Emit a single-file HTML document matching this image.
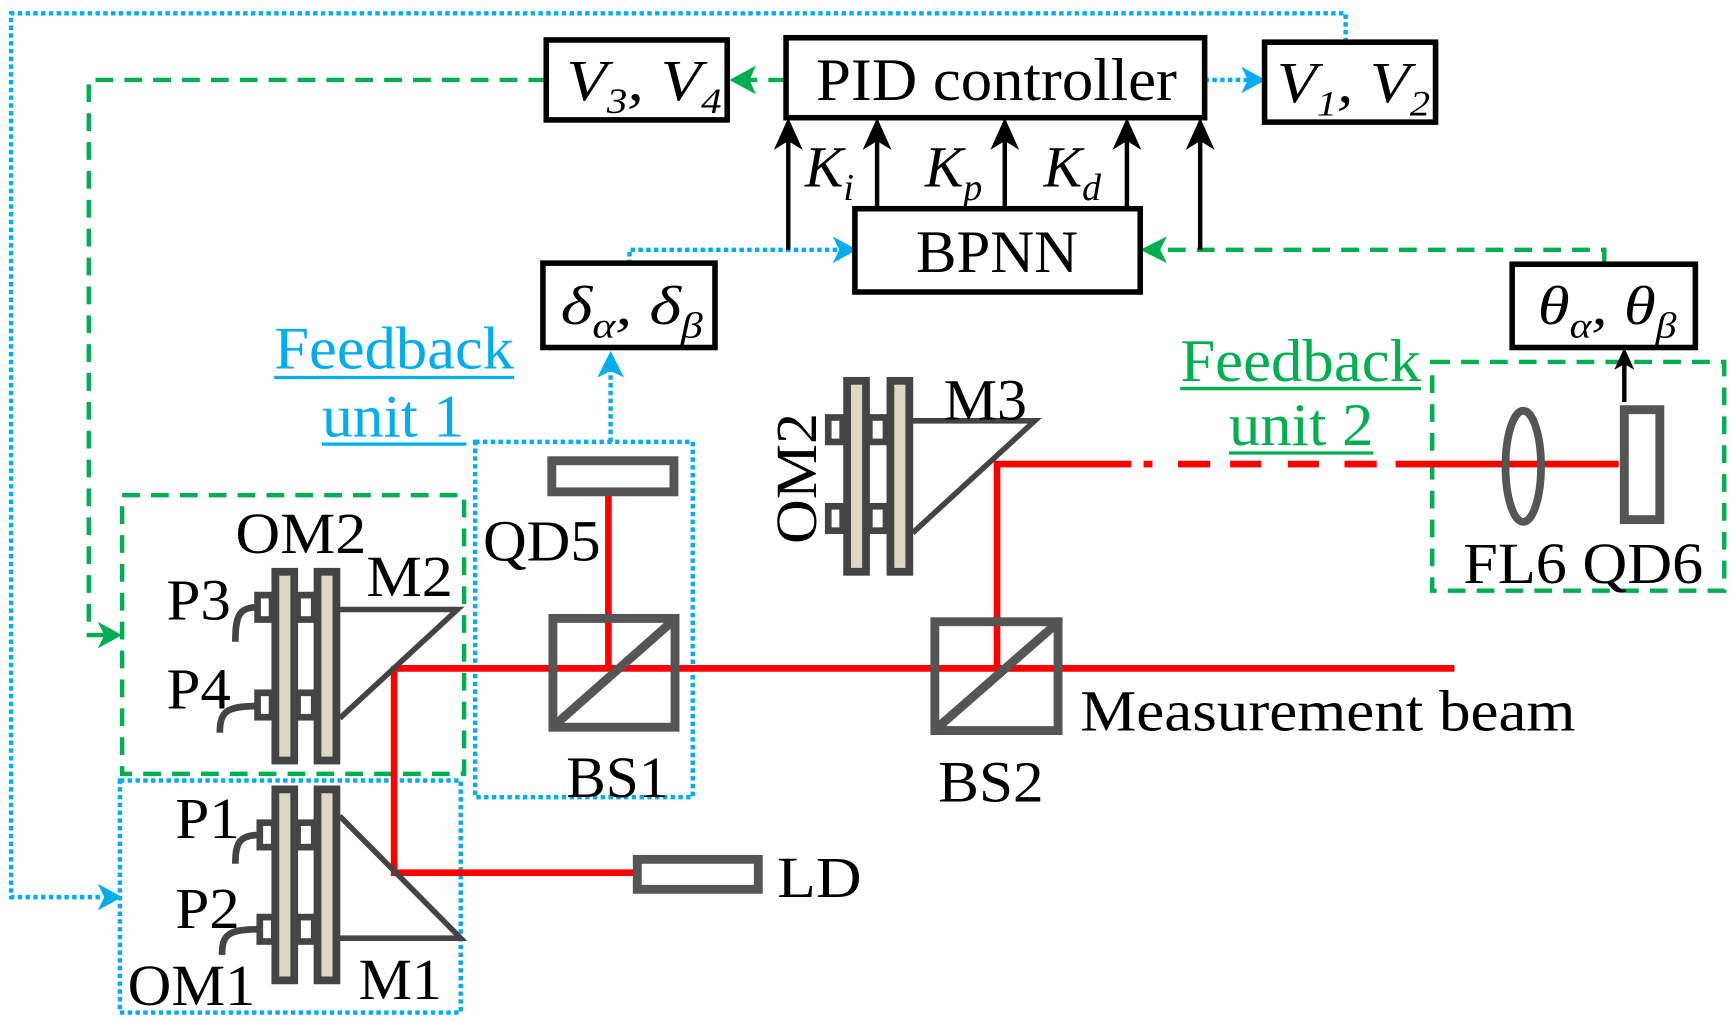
<!DOCTYPE html>
<html><head><meta charset="utf-8"><style>
html,body{margin:0;padding:0;background:#fff;}
svg{display:block;}
text{font-family:"Liberation Serif","Times New Roman",serif;fill:#000;}
</style></head><body>
<svg width="1732" height="1022" viewBox="0 0 1560 920.5" preserveAspectRatio="none" xmlns="http://www.w3.org/2000/svg" font-family="Liberation Serif, serif">
<!-- top blue dotted loop -->
<g fill="none" stroke="#00aeef" stroke-width="4" stroke-dasharray="4,3">
<path d="M1212,38 V12 H10 V808 H92"/>
<path d="M567,238 V225 H758"/>
<path d="M1085,72 H1125"/>
<path d="M550,398 V332"/>
<rect x="428" y="398" width="196" height="320"/>
<rect x="108" y="703" width="307" height="209"/>
</g>
<g fill="#00aeef">
<path d="M110,808 L88,796 L94,808 L88,820Z"/>
<path d="M772,225 L750,213 L756,225 L750,237Z"/>
<path d="M1140,72 L1118,60 L1124,72 L1118,84Z"/>
<path d="M550,316 L538,340 L550,334 L562,340Z"/>
</g>
<!-- green dashed -->
<g fill="none" stroke="#00b050" stroke-width="4" stroke-dasharray="16,10">
<path d="M492,72 H80 V572 H95"/>
<path d="M708,72 H675"/>
<path d="M1445,238 V225 H1040"/>
<rect x="110" y="446" width="308" height="251"/>
<rect x="1290" y="326" width="263" height="206"/>
</g>
<g fill="#00b050">
<path d="M110,572 L88,560 L94,572 L88,584Z"/>
<path d="M657,72 L681,59 L675,72 L681,85Z"/>
<path d="M1027,225 L1051,213 L1045,225 L1051,237Z"/>
</g>
<!-- boxes -->
<g fill="#fff" stroke="#000" stroke-width="5">
<rect x="492" y="36" width="163" height="72"/>
<rect x="708" y="34" width="377" height="72"/>
<rect x="1139" y="38" width="154" height="72"/>
<rect x="770" y="188" width="257" height="75"/>
<rect x="489" y="237" width="155" height="76"/>
<rect x="1362" y="238" width="165" height="75"/>
</g>
<!-- black arrows -->
<g stroke="#000" stroke-width="4" fill="none">
<path d="M710,225 V118"/><path d="M790,188 V118"/><path d="M905,188 V118"/><path d="M1015,188 V118"/><path d="M1081,225 V118"/><path d="M1463,362 V326"/>
</g>
<g fill="#000">
<path d="M710,106 L697,135 L710,127 L723,135Z"/>
<path d="M790,106 L777,135 L790,127 L803,135Z"/>
<path d="M905,106 L892,135 L905,127 L918,135Z"/>
<path d="M1015,106 L1002,135 L1015,127 L1028,135Z"/>
<path d="M1081,106 L1068,135 L1081,127 L1094,135Z"/>
<path d="M1463,313 L1454,333 L1463,328 L1472,333Z"/>
</g>
<!-- box texts -->
<text x="735" y="90" font-size="54" textLength="325" lengthAdjust="spacingAndGlyphs">PID controller</text>
<text x="825" y="245" font-size="54" textLength="146" lengthAdjust="spacingAndGlyphs">BPNN</text>
<text x="510" y="90" font-size="52" font-style="italic" textLength="140" lengthAdjust="spacingAndGlyphs">V<tspan font-size="32" dy="12">3</tspan><tspan dy="-12">, V</tspan><tspan font-size="32" dy="12">4</tspan></text>
<text x="1150" y="92" font-size="52" font-style="italic" textLength="138" lengthAdjust="spacingAndGlyphs">V<tspan font-size="32" dy="12">1</tspan><tspan dy="-12">, V</tspan><tspan font-size="32" dy="12">2</tspan></text>
<text x="505" y="292" font-size="50" font-style="italic" textLength="128" lengthAdjust="spacingAndGlyphs">δ<tspan font-size="32" dy="12">α</tspan><tspan dy="-12">, δ</tspan><tspan font-size="32" dy="12">β</tspan></text>
<text x="1385" y="292" font-size="50" font-style="italic" textLength="125" lengthAdjust="spacingAndGlyphs">θ<tspan font-size="32" dy="12">α</tspan><tspan dy="-12">, θ</tspan><tspan font-size="32" dy="12">β</tspan></text>
<text x="725" y="168" font-size="52" font-style="italic">K<tspan font-size="34" dy="12">i</tspan></text>
<text x="833" y="168" font-size="52" font-style="italic">K<tspan font-size="34" dy="12">p</tspan></text>
<text x="940" y="168" font-size="52" font-style="italic">K<tspan font-size="34" dy="12">d</tspan></text>
<!-- feedback labels -->
<text x="247" y="332" font-size="54" style="fill:#00aeef" textLength="216" lengthAdjust="spacingAndGlyphs">Feedback</text>
<text x="290" y="393" font-size="54" style="fill:#00aeef" textLength="128" lengthAdjust="spacingAndGlyphs">unit 1</text>
<path d="M247,340 H463 M290,400 H420" stroke="#00aeef" stroke-width="3"/>
<text x="1063" y="343" font-size="54" style="fill:#00b050" textLength="217" lengthAdjust="spacingAndGlyphs">Feedback</text>
<text x="1107" y="401" font-size="54" style="fill:#00b050" textLength="130" lengthAdjust="spacingAndGlyphs">unit 2</text>
<path d="M1063,350 H1280 M1107,408 H1237" stroke="#00b050" stroke-width="3"/>
<!-- red beams -->
<g stroke="#ff0000" stroke-width="6" fill="none">
<path d="M548,445 V602"/>
<path d="M355,602 H1310"/>
<path d="M355,600 V786 H572"/>
<path d="M898,602 V418 H1019"/>
<path d="M1030,418 H1038 M1061,418 H1090 M1108,418 H1136 M1160,418 H1188 M1211,418 H1240 M1257,418 H1458"/>
</g>
<!-- gray optics -->
<g fill="none" stroke="#555" stroke-width="8">
<rect x="497" y="415" width="110" height="28"/>
<rect x="574" y="774" width="109" height="27"/>
<rect x="498" y="557" width="110" height="98"/>
<path d="M502,651 L604,561"/>
<rect x="842" y="560" width="111" height="98"/>
<path d="M846,654 L949,564"/>
<ellipse cx="1372" cy="420" rx="16" ry="50" stroke-width="7"/>
<rect x="1463" y="369" width="32" height="99"/>
</g>
<!-- mirror mounts -->
<g stroke="#444" stroke-width="7">
<!-- left OM2 -->
<rect x="248" y="515" width="17" height="170" fill="#ddd8c4"/>
<rect x="286" y="515" width="17" height="170" fill="#ddd8c4"/>
<rect x="232" y="536" width="13" height="22" fill="#fff" stroke-width="6"/>
<rect x="268" y="536" width="15" height="22" fill="#fff" stroke-width="6"/>
<rect x="232" y="624" width="13" height="22" fill="#fff" stroke-width="6"/>
<rect x="268" y="624" width="15" height="22" fill="#fff" stroke-width="6"/>
<path d="M306,549 H412 L306,647" fill="none" stroke-width="5"/>
<path d="M232,547 C215,547 212,555 212,578" fill="none" stroke-width="6"/>
<path d="M232,636 C205,636 198,640 198,660" fill="none" stroke-width="6"/>
<!-- M1 -->
<rect x="248" y="711" width="17" height="172" fill="#ddd8c4"/>
<rect x="286" y="711" width="17" height="172" fill="#ddd8c4"/>
<rect x="234" y="741" width="13" height="22" fill="#fff" stroke-width="6"/>
<rect x="268" y="741" width="15" height="22" fill="#fff" stroke-width="6"/>
<rect x="234" y="826" width="13" height="22" fill="#fff" stroke-width="6"/>
<rect x="268" y="826" width="15" height="22" fill="#fff" stroke-width="6"/>
<path d="M306,735 L415,845 H306" fill="none" stroke-width="5"/>
<path d="M234,752 C215,752 212,760 212,778" fill="none" stroke-width="6"/>
<path d="M234,837 C205,837 200,842 200,860" fill="none" stroke-width="6"/>
<!-- M3 -->
<rect x="763" y="343" width="17" height="172" fill="#ddd8c4"/>
<rect x="802" y="343" width="17" height="172" fill="#ddd8c4"/>
<rect x="746" y="376" width="13" height="22" fill="#fff" stroke-width="6"/>
<rect x="783" y="376" width="15" height="22" fill="#fff" stroke-width="6"/>
<rect x="746" y="456" width="13" height="22" fill="#fff" stroke-width="6"/>
<rect x="783" y="456" width="15" height="22" fill="#fff" stroke-width="6"/>
<path d="M822,379 H932 L822,480" fill="none" stroke-width="5"/>
</g>
<!-- labels -->
<g font-size="52">
<text x="435" y="505" textLength="106" lengthAdjust="spacingAndGlyphs">QD5</text>
<text x="510" y="718" textLength="92" lengthAdjust="spacingAndGlyphs">BS1</text>
<text x="845" y="722" textLength="95" lengthAdjust="spacingAndGlyphs">BS2</text>
<text x="700" y="808" textLength="76" lengthAdjust="spacingAndGlyphs">LD</text>
<text x="973" y="658" textLength="446" lengthAdjust="spacingAndGlyphs">Measurement beam</text>
<text x="850" y="378" textLength="75" lengthAdjust="spacingAndGlyphs">M3</text>
<text x="1318" y="525" textLength="216" lengthAdjust="spacingAndGlyphs">FL6 QD6</text>
<text x="212" y="498" textLength="118" lengthAdjust="spacingAndGlyphs">OM2</text>
<text x="330" y="537" textLength="78" lengthAdjust="spacingAndGlyphs">M2</text>
<text x="150" y="558" textLength="58" lengthAdjust="spacingAndGlyphs">P3</text>
<text x="150" y="638" textLength="58" lengthAdjust="spacingAndGlyphs">P4</text>
<text x="158" y="755" textLength="58" lengthAdjust="spacingAndGlyphs">P1</text>
<text x="158" y="836" textLength="58" lengthAdjust="spacingAndGlyphs">P2</text>
<text x="115" y="905" textLength="115" lengthAdjust="spacingAndGlyphs">OM1</text>
<text x="323" y="900" textLength="75" lengthAdjust="spacingAndGlyphs">M1</text>
<text transform="translate(735,490) rotate(-90)" textLength="118" lengthAdjust="spacingAndGlyphs">OM2</text>
</g>
</svg>
</body></html>
